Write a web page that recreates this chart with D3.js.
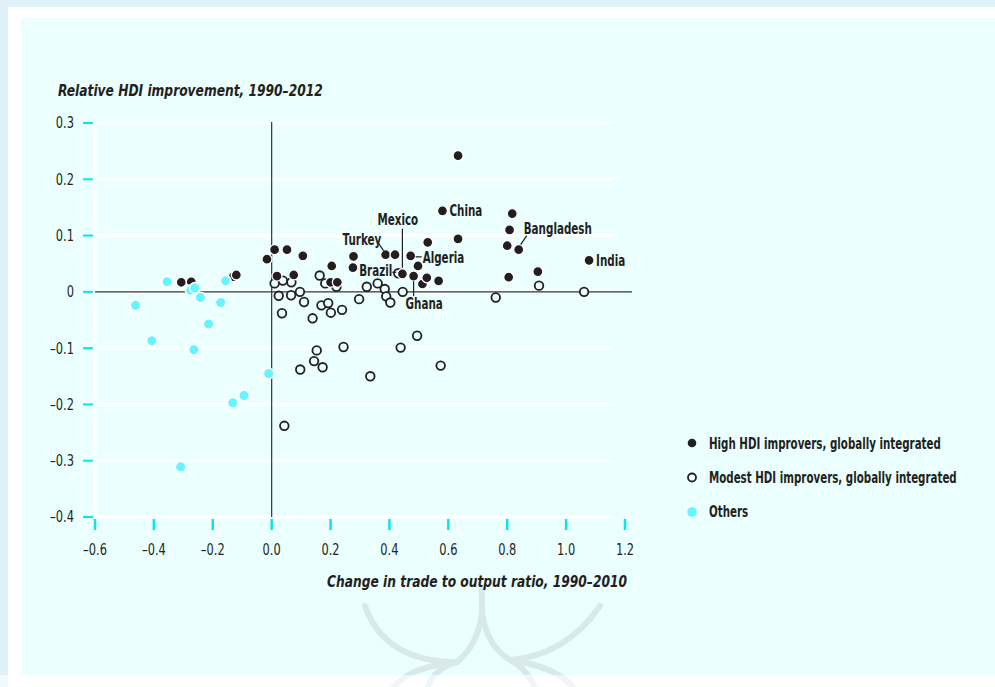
<!DOCTYPE html>
<html>
<head>
<meta charset="utf-8">
<script src="https://cdn.jsdelivr.net/npm/d3@7"></script>
<style>
  body { margin: 0; background: #fff; }
  svg text { font-family: 'DejaVu Sans Condensed', 'DejaVu Sans', sans-serif; fill: #231f20; }
  .tick-label { font-size: 15.5px; }
  .axis-title { font-size: 15.5px; font-weight: bold; font-style: italic; }
  .pt-label { font-size: 16px; font-weight: bold; }
  .legend-text { font-size: 16px; font-weight: bold; }
</style>
</head>
<body>
<svg id="chart" width="995" height="687"></svg>
<script>
// Tick values
var X_TICKS = [-0.6, -0.4, -0.2, 0.0, 0.2, 0.4, 0.6, 0.8, 1.0, 1.2];
var Y_TICKS = [0.3, 0.2, 0.1, 0, -0.1, -0.2, -0.3, -0.4];

// High HDI improvers, globally integrated
var highX = [-0.307, -0.273, -0.14, -0.13, -0.12, -0.016, 0.010, 0.052, 0.106, 0.018, 0.075,
  0.204, 0.200, 0.223, 0.278, 0.276, 0.387, 0.419, 0.512, 0.444, 0.472, 0.497, 0.482, 0.527,
  0.567, 0.530, 0.633, 0.580, 0.633, 0.817, 0.808, 0.800, 0.839, 0.805, 0.904, 1.078];
var highY = [0.017, 0.018, 0.024, 0.027, 0.030, 0.058, 0.075, 0.075, 0.064, 0.028, 0.030,
  0.046, 0.017, 0.017, 0.063, 0.043, 0.066, 0.066, 0.014, 0.032, 0.064, 0.046, 0.028, 0.025,
  0.0195, 0.088, 0.242, 0.144, 0.094, 0.139, 0.110, 0.082, 0.075, 0.026, 0.036, 0.056];

// Modest HDI improvers, globally integrated
var modestX = [0.010, 0.038, 0.067, 0.163, 0.182, 0.220, 0.024, 0.066, 0.096, 0.110, 0.035,
  0.139, 0.169, 0.192, 0.201, 0.239, 0.297, 0.323, 0.360, 0.384, 0.389, 0.403, 0.430, 0.445,
  0.761, 0.908, 1.061, 0.153, 0.244, 0.144, 0.097, 0.173, 0.335, 0.043, 0.438, 0.494, 0.574];
var modestY = [0.015, 0.020, 0.017, 0.029, 0.015, 0.009, -0.007, -0.006, 0.000, -0.018, -0.038,
  -0.047, -0.024, -0.020, -0.037, -0.032, -0.013, 0.009, 0.015, 0.005, -0.008, -0.019, 0.033, 0.000,
  -0.010, 0.011, 0.000, -0.104, -0.098, -0.123, -0.138, -0.134, -0.150, -0.238, -0.099, -0.078, -0.131];

// Others
var otherX = [-0.355, -0.275, -0.261, -0.242, -0.156, -0.173, -0.462, -0.214, -0.407, -0.264,
  -0.010, -0.094, -0.132, -0.309];
var otherY = [0.018, 0.003, 0.007, -0.010, 0.0195, -0.019, -0.024, -0.057, -0.087, -0.103,
  -0.145, -0.184, -0.197, -0.311];

// Labelled countries
var labelNames = ["China", "Bangladesh", "India", "Mexico", "Turkey", "Brazil", "Algeria", "Ghana"];
var labelX = [0.580, 0.839, 1.078, 0.444, 0.387, 0.430, 0.472, 0.482];
var labelY = [0.144, 0.075, 0.056, 0.032, 0.066, 0.033, 0.064, 0.028];

var legendNames = ["High HDI improvers, globally integrated",
  "Modest HDI improvers, globally integrated", "Others"];

var INK = "#231f20";
var CYAN = "#66f4ff";
var TICK = "#00e8f0";

var svg = d3.select("#chart");

// Squeeze text horizontally around its x (the original uses a condensed face)
function condense(sel, f) {
  sel.each(function() {
    let t = d3.select(this);
    let tx = +t.attr("x");
    t.attr("transform", `translate(${tx},0) scale(${f},1) translate(${-tx},0)`);
  });
}

// Page frame
svg.append("rect").attr("width", 995).attr("height", 687).attr("fill", "#fff");
svg.append("rect").attr("width", 995).attr("height", 7).attr("fill", "#dff0f8");
svg.append("rect").attr("width", 8).attr("height", 687).attr("fill", "#dff0f8");
svg.append("rect").attr("x", 21).attr("y", 18).attr("width", 974).attr("height", 657).attr("fill", "#ebffff");

// Faint watermark at the bottom
var wm = svg.append("g")
  .attr("fill", "none")
  .attr("stroke", "#d9e9eb")
  .attr("stroke-width", 6)
  .attr("stroke-linecap", "round");
[
  "M365,606 Q385,662 457,662",
  "M482,590 L482,612 Q478,645 457,662",
  "M482,612 Q486,645 510,660",
  "M510,660 Q565,656 600,606",
  "M457,662 Q432,668 425,695",
  "M457,662 Q400,668 390,695",
  "M510,660 Q530,670 537,695",
  "M510,660 Q565,668 578,695"
].forEach(d => wm.append("path").attr("d", d));
svg.append("rect").attr("y", 675).attr("width", 995).attr("height", 12)
  .attr("fill", "#fff").attr("opacity", 0.6);

// Scales
var x = d3.scaleLinear().domain([-0.6, 1.2]).range([95, 625]);
var y = d3.scaleLinear().domain([-0.4, 0.3]).range([517, 123]);

// White gridlines
svg.append("g").selectAll("line")
  .data(Y_TICKS)
  .enter().append("line")
    .attr("x1", x(-0.6))
    .attr("x2", 613)
    .attr("y1", d => y(d))
    .attr("y2", d => y(d))
    .attr("stroke", "#fff")
    .attr("stroke-width", 3);

// Left white axis line
svg.append("line")
  .attr("x1", x(-0.6)).attr("x2", x(-0.6))
  .attr("y1", y(0.3) - 1).attr("y2", y(-0.4) + 4)
  .attr("stroke", "#fff").attr("stroke-width", 3);

// Zero lines
svg.append("line")
  .attr("x1", x(-0.6)).attr("x2", 632)
  .attr("y1", y(0)).attr("y2", y(0))
  .attr("stroke", "#333").attr("stroke-width", 1.2);
svg.append("line")
  .attr("x1", x(0)).attr("x2", x(0))
  .attr("y1", y(0.3) - 1).attr("y2", y(-0.4))
  .attr("stroke", "#333").attr("stroke-width", 1.2);

var dash = d => d3.format(".1f")(d).replace("−", "–").replace("-", "–");

// Y axis ticks and labels
var yAxis = svg.append("g");
yAxis.selectAll("line")
  .data(Y_TICKS)
  .enter().append("line")
    .attr("x1", 83).attr("x2", 93)
    .attr("y1", d => y(d)).attr("y2", d => y(d))
    .attr("stroke", TICK).attr("stroke-width", 2);
yAxis.selectAll("text")
  .data(Y_TICKS)
  .enter().append("text")
    .attr("class", "tick-label")
    .attr("x", 74)
    .attr("y", d => y(d) + 5.5)
    .attr("text-anchor", "end")
    .text(d => d === 0 ? "0" : dash(d))
    .call(condense, 0.82);

// X axis ticks and labels
var xAxis = svg.append("g");
xAxis.selectAll("line")
  .data(X_TICKS)
  .enter().append("line")
    .attr("x1", d => x(d)).attr("x2", d => x(d))
    .attr("y1", 519).attr("y2", 530)
    .attr("stroke", TICK).attr("stroke-width", 2.5);
xAxis.selectAll("text")
  .data(X_TICKS)
  .enter().append("text")
    .attr("class", "tick-label")
    .attr("x", d => x(d))
    .attr("y", 555)
    .attr("text-anchor", "middle")
    .text(dash)
    .call(condense, 0.82);

// Axis titles
svg.append("text")
  .attr("class", "axis-title")
  .attr("x", 58).attr("y", 96)
  .text("Relative HDI improvement, 1990–2012")
  .call(condense, 0.88);
svg.append("text")
  .attr("class", "axis-title")
  .attr("x", 627).attr("y", 587)
  .attr("text-anchor", "end")
  .text("Change in trade to output ratio, 1990–2010")
  .call(condense, 0.88);

// Points: modest (open), high (filled), others (cyan)
svg.append("g").selectAll("circle")
  .data(modestX.map((v, i) => [v, modestY[i]]))
  .enter().append("circle")
    .attr("cx", d => x(d[0]))
    .attr("cy", d => y(d[1]))
    .attr("r", 4.3)
    .attr("fill", "#ebffff")
    .attr("stroke", INK)
    .attr("stroke-width", 1.8);

svg.append("g").selectAll("circle")
  .data(highX.map((v, i) => [v, highY[i]]))
  .enter().append("circle")
    .attr("cx", d => x(d[0]))
    .attr("cy", d => y(d[1]))
    .attr("r", 5)
    .attr("fill", INK)
    .attr("stroke", "#fff")
    .attr("stroke-width", 1.3);

svg.append("g").selectAll("circle")
  .data(otherX.map((v, i) => [v, otherY[i]]))
  .enter().append("circle")
    .attr("cx", d => x(d[0]))
    .attr("cy", d => y(d[1]))
    .attr("r", 5.3)
    .attr("fill", CYAN)
    .attr("stroke", "#fff")
    .attr("stroke-width", 1.5);

// Country labels: text offset, anchor and leader line (relative to the point)
var labelLayout = {
  China:      { dx: 7,   dy: 5,   anchor: "start" },
  Bangladesh: { dx: 5,   dy: -16, anchor: "start", lead: [2, -5, 8, -14] },
  India:      { dx: 7,   dy: 6,   anchor: "start" },
  Mexico:     { dx: -25, dy: -49, anchor: "start", lead: [0, -45, 0, -6] },
  Turkey:     { dx: -43, dy: -10, anchor: "start", lead: [-7, -11, -2, -4] },
  Brazil:     { dx: -6,  dy: 3,   anchor: "end",   lead: [-6, -1, -2, -1] },
  Algeria:    { dx: 12,  dy: 7,   anchor: "start", lead: [5, 1, 11, 1] },
  Ghana:      { dx: -8,  dy: 33,  anchor: "start", lead: [0, 5, 0, 20] }
};

var labels = svg.append("g");
labelNames.forEach(function(name, i) {
  let px = x(labelX[i]);
  let py = y(labelY[i]);
  let l = labelLayout[name];
  if (l.lead) {
    labels.append("line")
      .attr("x1", px + l.lead[0]).attr("y1", py + l.lead[1])
      .attr("x2", px + l.lead[2]).attr("y2", py + l.lead[3])
      .attr("stroke", INK).attr("stroke-width", 1.2);
  }
  labels.append("text")
    .attr("class", "pt-label")
    .attr("x", px + l.dx)
    .attr("y", py + l.dy)
    .attr("text-anchor", l.anchor)
    .text(name)
    .call(condense, 0.72);
});

// Legend
var legend = svg.append("g").attr("transform", "translate(692, 443)");
var legendStyle = [
  { r: 4.3, fill: INK, stroke: "none", sw: 0 },
  { r: 4, fill: "#ebffff", stroke: INK, sw: 1.8 },
  { r: 4.8, fill: CYAN, stroke: "none", sw: 0 }
];
legend.selectAll("circle")
  .data(legendNames)
  .enter().append("circle")
    .attr("cx", 0)
    .attr("cy", (d, i) => i * 34.5)
    .attr("r", (d, i) => legendStyle[i].r)
    .attr("fill", (d, i) => legendStyle[i].fill)
    .attr("stroke", (d, i) => legendStyle[i].stroke)
    .attr("stroke-width", (d, i) => legendStyle[i].sw);
legend.selectAll("text")
  .data(legendNames)
  .enter().append("text")
    .attr("class", "legend-text")
    .attr("x", 17)
    .attr("y", (d, i) => i * 34.5 + 5.5)
    .text(d => d)
    .call(condense, 0.715);
</script>
</body>
</html>
